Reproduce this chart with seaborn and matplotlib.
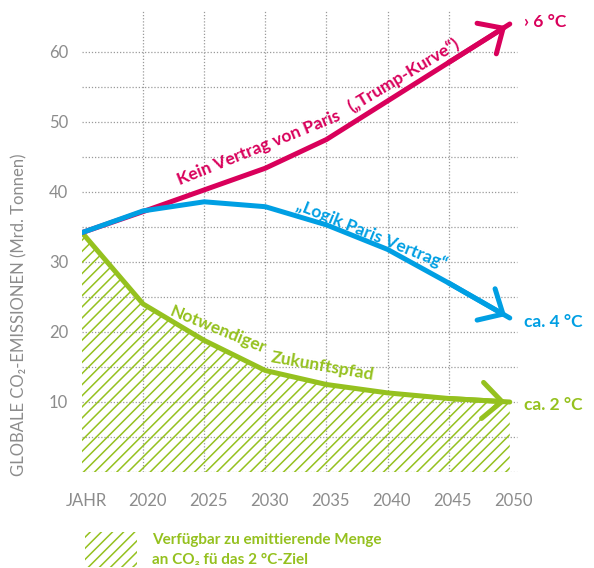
import matplotlib
matplotlib.use("Agg")
import matplotlib.pyplot as plt
import matplotlib.patches as mpatches
import matplotlib.transforms as mtrans
import numpy as np
import pandas as pd
import seaborn as sns

# values (Mrd. Tonnen CO2)
years = [2015, 2020, 2025, 2030, 2035, 2040, 2045, 2050]
trump_curve = [34.2, 37.2, 40.3, 43.4, 47.5, 53.0, 58.5, 64.0]
paris_logic = [34.2, 37.3, 38.6, 37.9, 35.3, 31.8, 27.0, 22.0]
needed_path = [34.2, 24.0, 18.8, 14.5, 12.5, 11.3, 10.5, 10.0]

series_names = ["needed", "trump", "paris"]
tick_years = [2015, 2020, 2025, 2030, 2035, 2040, 2045, 2050]
tick_labels = ["JAHR", "2020", "2025", "2030", "2035", "2040", "2045", "2050"]
y_ticks = [10, 20, 30, 40, 50, 60]

RED = "#d9005b"
BLUE = "#009fe3"
GREEN = "#95c11f"
GRAY = "#8c8c8c"

sns.set_theme(style="white")
plt.rcParams["font.family"] = ["Lato", "DejaVu Sans"]
plt.rcParams["hatch.linewidth"] = 1.1

df = pd.DataFrame({
    "year": years * 3,
    "value": needed_path + trump_curve + paris_logic,
    "series": [s for s in series_names for _ in years],
})
palette = {"needed": GREEN, "trump": RED, "paris": BLUE}

fig = plt.figure(figsize=(5.94, 5.68), dpi=100)
ax = fig.add_axes([82 / 594, 1 - 472 / 568, 440 / 594, 469 / 568])
ax.set_xlim(2015, 2051)
ax.set_ylim(0, 67)

# dotted grid
for v in np.arange(0, 61, 5):
    ax.hlines(v, 2015, 2050.6, colors="#9a9a9a", linestyles=(0, (1, 1.5)), lw=0.9, zorder=0)
for x in years[1:-1]:
    ax.vlines(x, 0, 66, colors="#9a9a9a", linestyles=(0, (1, 1.5)), lw=0.9, zorder=0)

# hatched area under the 2 degree path
ax.fill_between(years, needed_path, 0, facecolor="none", edgecolor=GREEN,
                hatch="///", linewidth=0, zorder=1)

sns.lineplot(data=df, x="year", y="value", hue="series", palette=palette,
             hue_order=series_names, linewidth=3.6, legend=False, ax=ax, zorder=3)

# arrow heads
for vals, col in [(needed_path, GREEN), (trump_curve, RED), (paris_logic, BLUE)]:
    ax.annotate("", xy=(years[-1], vals[-1]), xytext=(years[-2], vals[-2]),
                arrowprops=dict(arrowstyle="->,head_length=0.7,head_width=0.65",
                                color=col, lw=3.6, mutation_scale=20,
                                shrinkA=0, shrinkB=3), zorder=4)

# labels along the lines
ax.text(2029.5, 46.3, "Kein Vertrag von Paris", color=RED, fontsize=12.5,
        fontweight="bold", rotation=22, ha="center", va="center", rotation_mode="anchor")
ax.text(2041.3, 56.7, "(\u201eTrump-Kurve\u201c)", color=RED, fontsize=12.5,
        fontweight="bold", rotation=31, ha="center", va="center", rotation_mode="anchor")
ax.text(2038.7, 34.0, "\u201eLogik Paris Vertrag\u201c", color=BLUE, fontsize=12.5,
        fontweight="bold", rotation=-22, ha="center", va="center", rotation_mode="anchor")
ax.text(2026.1, 20.3, "Notwendiger", color=GREEN, fontsize=12.5,
        fontweight="bold", rotation=-22, ha="center", va="center", rotation_mode="anchor")
ax.text(2034.7, 15.1, "Zukunftspfad", color=GREEN, fontsize=12.5,
        fontweight="bold", rotation=-10, ha="center", va="center", rotation_mode="anchor")

# end labels
ax.text(2051.2, 64.3, "\u203a 6 \u00b0C", color=RED, fontsize=12.5, fontweight="bold",
        ha="left", va="center", clip_on=False)
ax.text(2051.2, 21.4, "ca. 4 \u00b0C", color=BLUE, fontsize=12.5, fontweight="bold",
        ha="left", va="center", clip_on=False)
ax.text(2051.2, 9.6, "ca. 2 \u00b0C", color=GREEN, fontsize=12.5, fontweight="bold",
        ha="left", va="center", clip_on=False)

# axes
for s in ax.spines.values():
    s.set_visible(False)
ax.set_xticks(tick_years)
ax.set_xticklabels(tick_labels)
ax.set_yticks(y_ticks)
ax.tick_params(axis="x", length=0, pad=15, labelsize=12, labelcolor=GRAY)
ax.tick_params(axis="y", length=0, pad=10, labelsize=12, labelcolor=GRAY)
shift = mtrans.ScaledTranslation(4 / 100, 0, fig.dpi_scale_trans)
for lab in ax.get_xticklabels():
    lab.set_transform(lab.get_transform() + shift)
ax.set_xlabel("")
ax.set_ylabel("GLOBALE CO\u2082-EMISSIONEN (Mrd. Tonnen)", color=GRAY, fontsize=12)
ax.yaxis.set_label_coords(-0.125, 0.335)

# legend
fig.add_artist(mpatches.Rectangle((85 / 594, 1 - 567 / 568), 52 / 594, 35 / 568,
                                  transform=fig.transFigure, facecolor="none",
                                  edgecolor=GREEN, hatch="///", linewidth=0))
fig.text(152 / 594, 1 - 540 / 568, "Verf\u00fcgbar zu emittierende Menge", color=GREEN,
         fontsize=11, fontweight="bold", va="center")
fig.text(152 / 594, 1 - 560 / 568, "an CO\u2082 f\u00fc das 2 \u00b0C-Ziel", color=GREEN,
         fontsize=11, fontweight="bold", va="center")

fig.savefig("out.png", dpi=100)
